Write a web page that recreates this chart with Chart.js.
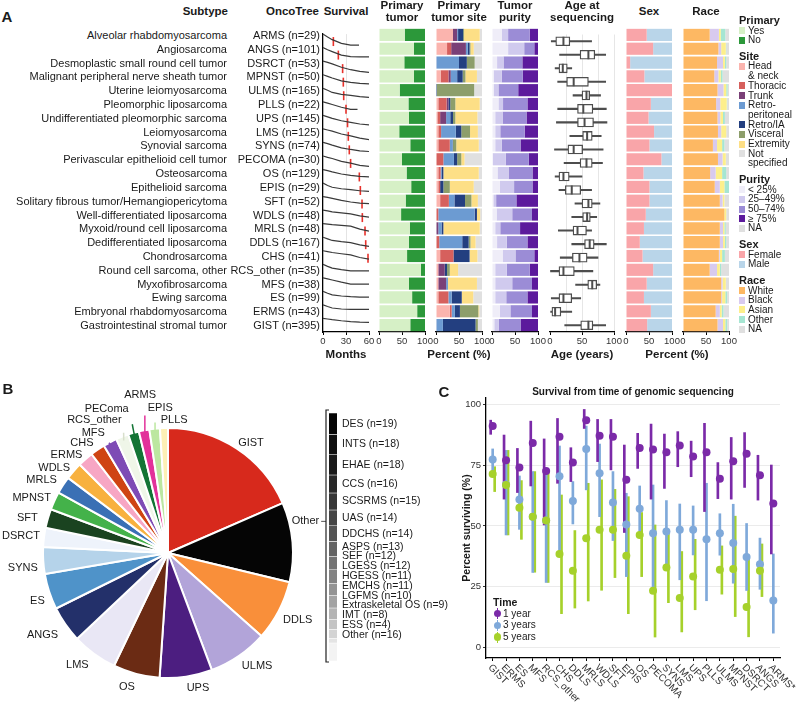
<!DOCTYPE html>
<html>
<head>
<meta charset="utf-8">
<script src="https://cdn.jsdelivr.net/npm/chart.js@4.4.1/dist/chart.umd.min.js"></script>
<style>
  body { margin: 0; background: #fff; }
  #fig { position: relative; width: 798px; height: 710px; overflow: hidden; font-family: 'Liberation Sans', Arial, Helvetica, sans-serif; color: #1a1a1a; }
  #fig canvas { position: absolute; }
  .t { position: absolute; white-space: nowrap; line-height: 1; }
</style>
</head>
<body>
<div id="fig"></div>
<script>
// ---------- Panel A data (rows top to bottom) ----------
const subtypes = ['Alveolar rhabdomyosarcoma', 'Angiosarcoma', 'Desmoplastic small round cell tumor',
  'Malignant peripheral nerve sheath tumor', 'Uterine leiomyosarcoma', 'Pleomorphic liposarcoma',
  'Undifferentiated pleomorphic sarcoma', 'Leiomyosarcoma', 'Synovial sarcoma',
  'Perivascular epithelioid cell tumor', 'Osteosarcoma', 'Epithelioid sarcoma',
  'Solitary fibrous tumor/Hemangiopericytoma', 'Well-differentiated liposarcoma',
  'Myxoid/round cell liposarcoma', 'Dedifferentiated liposarcoma', 'Chondrosarcoma',
  'Round cell sarcoma, other', 'Myxofibrosarcoma', 'Ewing sarcoma', 'Embryonal rhabdomyosarcoma',
  'Gastrointestinal stromal tumor'];
const codes = ['ARMS', 'ANGS', 'DSRCT', 'MPNST', 'ULMS', 'PLLS', 'UPS', 'LMS', 'SYNS', 'PECOMA', 'OS',
  'EPIS', 'SFT', 'WDLS', 'MRLS', 'DDLS', 'CHS', 'RCS_other', 'MFS', 'ES', 'ERMS', 'GIST'];
const counts = [29, 101, 53, 50, 165, 22, 145, 125, 74, 30, 129, 29, 52, 48, 48, 167, 41, 35, 38, 99, 43, 395];

// survival (%) at these months
const survMonths = [0, 6, 12, 24, 36, 48, 60];
const survCurves = [
  [100, 78, 59, 32, 19, 19, null],
  [100, 84, 71, 45, 34, 32, 31.6],
  [100, 91, 80, 55, 37, 25, 17],
  [100, 88, 76, 55, 43, 36, 32],
  [100, 85, 69, 55, 47, 38, 32],
  [100, 90, 80, 60, 44.5, null, null],
  [100, 89, 78, 60, 48, 36, 29],
  [100, 92, 83, 62, 48, 32, 20],
  [100, 91, 80, 60, 48, 38, 33],
  [100, 90, 81, 60, 47, 30, 23],
  [100, 92, 82, 67, 57, 50, 46],
  [100, 82, 69, 58, 51, 43, 38],
  [100, 94, 87, 72, 60, 52, 48],
  [100, 94, 87, 80, 72, 58, 48],
  [100, 97, 93, 88, 82, 60, 45],
  [100, 88, 76, 67, 60, 44, 32],
  [100, 94, 87, 78, 70, 50, 38.5],
  [100, 85, 72, 60, 52, 52, 52],
  [100, 92, 84, 68, 54, 54, 54],
  [100, 86, 74, 66, 61, 58, 57.5],
  [100, 88, 77, 70, 67, 67, 67],
  [100, 96, 91, 83, 77, 73, 71]
];
const survEnd = [47, 60, 60, 60, 60, 45, 60, 60, 60, 60, 60, 60, 60, 60, 60, 60, 60, 60, 60, 60, 60, 60];
const survMedian = [13.5, 20, 25.6, 26.5, 27, 30, 32, 33, 34.3, 36, 47.4, 48.7, 50.9, 51.3, 54.8, 55.7, 58.7,
  null, null, null, null, null];

const primaryYes = [56, 76, 55, 76, 45, 64, 65, 44, 68, 50, 60, 70, 58, 48, 67, 65, 61, 91, 65, 72, 83, 68];
const primaryNo = [44, 24, 45, 24, 55, 36, 35, 56, 32, 50, 40, 30, 42, 52, 33, 35, 39, 9, 35, 28, 17, 32];

const siteHeadNeck = [37, 24, 1, 10, 0, 5, 3, 5, 5, 0, 5, 5, 9, 0, 0, 0, 9, 5, 5, 5, 30, 1];
const siteThoracic = [0, 9, 0, 17, 0, 18, 6, 6, 25, 16, 5, 4, 19, 5, 0, 7, 29, 0, 0, 22, 4, 0];
const siteTrunk = [9, 32, 0, 5, 0, 4, 13, 0, 0, 0, 0, 0, 0, 0, 5, 0, 0, 14, 17, 0, 0, 0];
const siteRetroperitoneal = [2, 4, 49, 14, 1, 0, 9, 32, 6, 23, 2, 0, 12, 79, 7, 50, 0, 0, 4, 7, 7, 14];
const siteRetroIA = [11, 4, 17, 12, 1, 4, 6, 12, 1, 7, 4, 7, 23, 5, 4, 14, 35, 5, 0, 22, 11, 71];
const siteVisceral = [2, 2, 17, 6, 81, 11, 5, 19, 7, 9, 0, 14, 14, 0, 0, 4, 0, 6, 0, 0, 40, 5];
const siteExtremity = [34, 7, 0, 25, 0, 53, 48, 17, 49, 7, 77, 52, 14, 7, 79, 11, 17, 18, 63, 25, 2, 0];
const siteNotSpecified = [5, 18, 16, 11, 17, 5, 10, 9, 7, 38, 7, 18, 9, 4, 5, 14, 10, 52, 11, 19, 6, 9];

const purityLt25 = [21, 35, 11, 4, 4, 14, 7, 7, 7, 2, 12, 17, 3, 10, 7, 11, 23, 7, 7, 7, 17, 5];
const purity25 = [14, 35, 14, 17, 10, 10, 16, 11, 14, 28, 24, 31, 6, 34, 11, 21, 28, 25, 37, 24, 23, 10];
const purity50 = [47, 22, 41, 46, 43, 53, 52, 53, 41, 50, 52, 40, 44, 43, 43, 45, 41, 50, 43, 46, 47, 47];
const purity75 = [18, 8, 34, 33, 43, 23, 25, 29, 38, 20, 12, 12, 47, 13, 39, 23, 8, 18, 13, 23, 13, 38];

const ageLow = [2, 15, 8, 12, 36, 12, 10, 31, 7, 22, 8, 14, 39, 34, 13, 34, 16, 0, 40, 2, 1, 23];
const ageQ1 = [9, 47, 14, 26, 50, 43, 43, 51, 28, 47, 14, 24, 50, 51, 36, 54, 35, 14, 59, 14, 3, 48];
const ageMedian = [21, 60, 20, 37, 57, 52, 54, 58, 37, 57, 21, 34, 60, 58, 43, 62, 46, 21, 66, 21, 8, 60];
const ageQ3 = [31, 70, 27, 60, 62, 67, 68, 66, 51, 66, 30, 48, 66, 63, 57, 69, 58, 38, 73, 34, 17, 67];
const ageHigh = [65, 87, 34, 87, 79, 88, 89, 80, 83, 82, 50, 65, 78, 73, 65, 88, 75, 67, 78, 48, 34, 87];

const sexFemale = [45, 59, 9, 40, 100, 54, 49, 61, 51, 77, 38, 51, 51, 43, 39, 30, 36, 59, 45, 39, 54, 46];
const sexMale = [55, 41, 91, 60, 0, 46, 51, 39, 49, 23, 62, 49, 49, 57, 61, 70, 64, 41, 55, 61, 46, 54];

const raceWhite = [58, 77, 74, 68, 75, 72, 75, 76, 65, 76, 59, 69, 80, 90, 80, 80, 78, 58, 83, 83, 71, 75];
const raceBlack = [20, 6, 13, 9, 13, 9, 6, 7, 9, 10, 12, 11, 6, 0, 7, 7, 2, 16, 3, 2, 9, 12];
const raceAsian = [4, 10, 4, 5, 6, 14, 6, 11, 11, 7, 14, 10, 4, 4, 3, 4, 5, 6, 7, 7, 4, 5];
const raceOther = [10, 1, 3, 4, 3, 1, 4, 0, 5, 0, 9, 10, 0, 0, 3, 3, 6, 3, 0, 4, 4, 4];
const raceNA = [8, 6, 6, 14, 3, 4, 9, 6, 10, 7, 6, 0, 10, 6, 7, 6, 9, 17, 7, 4, 12, 4];

// ---------- Panel B data ----------
const pieLabels = ['GIST', 'Other', 'DDLS', 'ULMS', 'UPS', 'OS', 'LMS', 'ANGS', 'ES', 'SYNS', 'DSRCT', 'SFT',
  'MPNST', 'MRLS', 'WDLS', 'ERMS', 'CHS', 'MFS', 'RCS_other', 'PEComa', 'ARMS', 'EPIS', 'PLLS'];
const pieCounts = [395, 220, 167, 165, 145, 129, 125, 101, 99, 74, 53, 52, 50, 48, 48, 43, 41, 38, 35, 30, 29, 29, 22];
const otherCodes = ['DES', 'INTS', 'EHAE', 'CCS', 'SCSRMS', 'UAS', 'DDCHS', 'ASPS', 'SEF', 'LGESS', 'HGESS',
  'EMCHS', 'LGFMS', 'Extraskeletal OS', 'IMT', 'ESS', 'Other'];
const otherCounts = [19, 18, 18, 16, 15, 14, 14, 13, 12, 12, 11, 11, 10, 9, 8, 4, 16];

// ---------- Panel C data ----------
const survCodes = ['GIST', 'ERMS', 'ES', 'MFS', 'RCS_other', 'CHS', 'DDLS', 'MRLS', 'WDLS', 'SFT', 'EPIS', 'OS',
  'PECOMA', 'SYNS', 'LMS', 'UPS', 'PLLS', 'ULMS', 'MPNST', 'DSRCT', 'ANGS', 'ARMS*'];
const year1 = [91, 77, 74, 84, 72.5, 86.6, 76, 93.4, 87, 86.6, 69, 82, 81.4, 80.2, 83, 78.5, 80.2, 69.4, 76.5, 79.6, 70.8, 59.2];
const year1Lo = [87.6, 61, 63.7, 66.4, 50.4, 67.5, 68.2, 90, 76.4, 73, 47.3, 73.6, 61, 65.4, 74.3, 70.2, 55.9, 61.2, 61, 65.8, 60.6, 38.5];
const year1Hi = [93.4, 87.3, 81.8, 93, 85.7, 94.1, 82.1, 97.8, 93.7, 93.7, 83.2, 88, 91.8, 87.7, 88.7, 84.8, 92.1, 76, 86.3, 88.3, 79, 75];
const year3 = [77.3, 67, 60.8, 53.8, 52.2, 70.4, 60.2, 81.6, 71.6, 59.6, 50.6, 57, 47, 47.7, 48.4, 48.4, 44.5, 47, 43, 37.2, 34.3, 19.4];
const year3Lo = [72.3, 46.3, 48.6, 30.9, 26.8, 38.5, 50.8, 64.8, 53.8, 44, 29.2, 47.7, 24.5, 33, 27.9, 38.1, 19.3, 38, 26.5, 23.5, 24, 6];
const year3Hi = [81.6, 81, 70.5, 72.3, 72.3, 82.8, 68.2, 91, 83.6, 72.3, 63.4, 66.4, 66.8, 60.4, 59, 58.2, 67.5, 55, 58.9, 51, 45, 38.5];
const year5 = [71.3, 66.8, 57.5, 53.8, 52.2, 38.5, 31.6, 44.9, 48.4, 48.4, 37.8, 46.3, 23.4, 32.9, 20.4, 29.2, null, 32, 32.3, 16.7, 31.6, null];
const year5Lo = [64.1, 46.3, 44.5, 31, 26.8, 14, 16.3, 19.2, 23.6, 28.8, 14, 29.2, 4.4, 18.5, 6.5, 15.6, null, 22, 12.8, 4.5, 21, null];
const year5Hi = [74.3, 81, 68.6, 72.3, 72.3, 62.7, 48.1, 67.5, 68.9, 65, 62, 55.5, 50.4, 47, 39.5, 44.5, null, 41.8, 54, 38, 42.6, null];

// ---------- styles ----------
const FONT = "'Liberation Sans', Arial, Helvetica, sans-serif";
Chart.defaults.font.family = FONT;
Chart.defaults.color = '#333';

const primaryColors = ['#d6f0c6', '#2c983a'];
const siteColors = ['#fbb4ae', '#d6605d', '#7a4077', '#6c9bd2', '#233f80', '#8d9e6b', '#fddf86', '#e0e0e0'];
const purityColors = ['#efedf8', '#d0caee', '#9b8cd6', '#5c1a9c', '#e0e0e0'];
const sexColors = ['#f9a5a9', '#b9d5e9'];
const raceColors = ['#fdb863', '#d8caef', '#fdef8c', '#a6e6d2', '#dfdfdf'];
const pieColors = ['#d7291c', '#050505', '#f98f3a', '#b2a4d9', '#4c1e80', '#6b2b14', '#e9e7f5', '#23306a',
  '#4f93c9', '#b5d3ea', '#eef3fb', '#1a4320', '#44b24a', '#3a70b5', '#f8b13f', '#f7a6c4', '#cf4413',
  '#7e4bb5', '#eff6e8', '#137435', '#e2319a', '#bce7a0', '#fdf0b5'];
const otherGrays = ['#050505', '#0f0f0f', '#1a1a1a', '#282828', '#363636', '#454545', '#545454', '#636363',
  '#737373', '#838383', '#939393', '#a3a3a3', '#b4b4b4', '#c4c4c4', '#d4d4d4', '#e4e4e4', '#f3f3f3'];
const timeColors = ['#7b2aa8', '#7fa9da', '#a6d12b'];

// pie label placement (degrees nudge from slice middle, distance from centre)
const pieLabelNudge = [3.7, -8, -0.3, -3.8, -4.2, 2.3, 2.9, 1.6, -2, -2.5, -0.6, -2.1, -2.7, -2.9, -4.3, -4.7,
  -3.7, -4.4, -7.5, -7, 1, 3.1, 4.5];
const pieLabelDist = [138, 141, 146, 144, 138, 140, 144, 150, 139, 146, 148, 145, 147, 146, 142, 141, 140, 141,
  152, 157, 160, 145, 133];
const pieLeader = ['MFS', 'RCS_other', 'PEComa', 'ARMS', 'EPIS'];

const fig = document.getElementById('fig');

function txt(s, x, y, o = {}) {
  const d = document.createElement('div');
  d.className = 't';
  d.textContent = s;
  const tx = o.align === 'right' ? '-100%' : o.align === 'center' ? '-50%' : '0';
  Object.assign(d.style, {
    left: x + 'px', top: y + 'px', fontSize: (o.size || 11) + 'px',
    fontWeight: o.bold ? 'bold' : 'normal', color: o.color || '#1a1a1a',
    transform: `translate(${tx},-50%)` + (o.rot ? ` rotate(${o.rot}deg)` : '')
  });
  fig.appendChild(d);
}

function box(x, y, w, h, bg, extra) {
  const d = document.createElement('div');
  Object.assign(d.style, { position: 'absolute', left: x + 'px', top: y + 'px', width: w + 'px', height: h + 'px', background: bg }, extra || {});
  fig.appendChild(d);
}

function canvasAt(left, top, w, h) {
  const c = document.createElement('canvas');
  c.width = w; c.height = h;
  Object.assign(c.style, { left: left + 'px', top: top + 'px', width: w + 'px', height: h + 'px' });
  fig.appendChild(c);
  return c;
}

function baseOpts(padding) {
  return {
    responsive: false, animation: false, events: [],
    layout: { padding },
    plugins: { legend: { display: false }, tooltip: { enabled: false } }
  };
}

// ---------- Panel A layout ----------
const rowTop = 28, rowBottom = 332, axisH = 22;
const rowH = (rowBottom - rowTop) / codes.length;

function colCanvas(x0, x1) {
  return canvasAt(x0 - 12, rowTop, x1 - x0 + 24, rowBottom - rowTop + axisH);
}

function bottomAxis(extra) {
  return Object.assign({
    type: 'linear', min: 0, max: 100,
    border: { color: '#000', width: 1.3 },
    grid: { drawOnChartArea: false, tickLength: 3, tickColor: '#000' },
    ticks: { stepSize: 50, font: { size: 9.5 }, color: '#333', padding: 1, maxRotation: 0 },
    afterFit: s => { s.height = axisH; }
  }, extra || {});
}

function stackColumn(x0, x1, series, colors) {
  new Chart(colCanvas(x0, x1), {
    type: 'bar',
    data: {
      labels: codes,
      datasets: series.map((d, k) => ({ data: d, backgroundColor: colors[k], barPercentage: 0.88, categoryPercentage: 1, borderWidth: 0 }))
    },
    options: Object.assign(baseOpts({ left: 12, right: 12 }), {
      indexAxis: 'y',
      scales: { x: bottomAxis({ stacked: true }), y: { stacked: true, display: false } }
    })
  });
}

// survival curves
const survSets = codes.map((c, i) => {
  const pts = [];
  survMonths.forEach((m, k) => {
    const s = survCurves[i][k];
    if (s != null && m <= survEnd[i]) pts.push({ x: m, y: i + 1 - s / 100 });
  });
  const last = pts[pts.length - 1];
  if (last.x < survEnd[i]) pts.push({ x: survEnd[i], y: last.y });
  return { data: pts, borderColor: '#3a3a3a', borderWidth: 1.2, pointRadius: 0, tension: 0, fill: false };
});
const medianSet = {
  data: survMedian.map((m, i) => m == null ? null : { x: m, y: i + 0.55 }).filter(Boolean),
  showLine: false, pointStyle: 'line', pointRotation: 90, pointRadius: 4.5,
  pointBorderColor: '#e8312b', pointBackgroundColor: '#e8312b', pointBorderWidth: 1.6
};
new Chart(colCanvas(323, 369), {
  type: 'line',
  data: { datasets: survSets.concat([medianSet]) },
  options: Object.assign(baseOpts({ left: 12, right: 12 }), {
    scales: {
      x: bottomAxis({
        max: 60,
        grid: { color: c => (c.tick && c.tick.value === 30) ? '#e4e4e4' : 'rgba(0,0,0,0)', tickLength: 3, tickColor: '#000' },
        ticks: { stepSize: 30, font: { size: 9.5 }, color: '#333', padding: 1, maxRotation: 0 }
      }),
      y: {
        type: 'linear', min: 0, max: codes.length, reverse: true,
        ticks: { display: false }, grid: { display: false },
        border: { color: '#000', width: 1.3 },
        afterFit: s => { s.width = 0; }
      }
    }
  })
});

stackColumn(379, 425, [primaryYes, primaryNo], primaryColors);
stackColumn(436, 482, [siteHeadNeck, siteThoracic, siteTrunk, siteRetroperitoneal, siteRetroIA, siteVisceral,
  siteExtremity, siteNotSpecified], siteColors);
stackColumn(492, 538, [purityLt25, purity25, purity50, purity75], purityColors);
stackColumn(626, 672, [sexFemale, sexMale], sexColors);
stackColumn(683, 729, [raceWhite, raceBlack, raceAsian, raceOther, raceNA], raceColors);

// age box plots
new Chart(colCanvas(550, 614), {
  type: 'bar',
  data: {
    labels: codes,
    datasets: [
      { type: 'line', indexAxis: 'y', data: ageMedian.map((m, i) => ({ x: m, y: codes[i] })), showLine: false,
        pointStyle: 'line', pointRotation: 90, pointRadius: 4.5, pointBorderColor: '#4d4d4d', pointBorderWidth: 2, order: 0 },
      { data: ageQ1.map((q, i) => [q, ageQ3[i]]), backgroundColor: '#fff', borderColor: '#4d4d4d', borderWidth: 1.3,
        borderSkipped: false, barThickness: 9, grouped: false, order: 1 },
      { data: ageLow.map((l, i) => [l, ageHigh[i]]), backgroundColor: '#4d4d4d', barThickness: 1.4, grouped: false, order: 2 }
    ]
  },
  options: Object.assign(baseOpts({ left: 12, right: 12 }), {
    indexAxis: 'y',
    scales: {
      x: bottomAxis({
        grid: {
          color: c => (c.tick && c.tick.value > 0) ? '#e6e6e6' : 'rgba(0,0,0,0)',
          tickLength: 3, tickColor: c => (c.tick && c.tick.value % 50 === 0) ? '#000' : 'rgba(0,0,0,0)'
        },
        ticks: { stepSize: 25, autoSkip: false, callback: v => v % 50 === 0 ? v : '', font: { size: 9.5 }, color: '#333', padding: 1, maxRotation: 0 }
      }),
      y: { display: false }
    }
  })
});

// Panel A text
txt('A', 7, 16, { align: 'center', size: 15, bold: true });
txt('Subtype', 228, 12, { align: 'right', size: 11.5, bold: true });
txt('OncoTree', 319, 12, { align: 'right', size: 11.5, bold: true });
txt('Survival', 346, 12, { align: 'center', size: 11.5, bold: true });
[['Primary', 'tumor', 402], ['Primary', 'tumor site', 459], ['Tumor', 'purity', 515], ['Age at', 'sequencing', 582]]
  .forEach(([a, b, x]) => { txt(a, x, 6, { align: 'center', size: 11.5, bold: true }); txt(b, x, 18, { align: 'center', size: 11.5, bold: true }); });
txt('Sex', 649, 12, { align: 'center', size: 11.5, bold: true });
txt('Race', 706, 12, { align: 'center', size: 11.5, bold: true });
codes.forEach((c, i) => {
  const y = rowTop + (i + 0.5) * rowH;
  txt(subtypes[i], 227, y, { align: 'right', size: 11 });
  txt(`${c} (n=${counts[i]})`, 320, y, { align: 'right', size: 11 });
});
txt('Months', 346, 355, { align: 'center', size: 11.5, bold: true });
txt('Percent (%)', 459, 355, { align: 'center', size: 11.5, bold: true });
txt('Age (years)', 582, 355, { align: 'center', size: 11.5, bold: true });
txt('Percent (%)', 677, 355, { align: 'center', size: 11.5, bold: true });

// Panel A legend
const legendGroups = [
  ['Primary', ['Yes', 'No'], primaryColors],
  ['Site', ['Head\n& neck', 'Thoracic', 'Trunk', 'Retro-\nperitoneal', 'Retro/IA', 'Visceral', 'Extremity', 'Not\nspecified'], siteColors],
  ['Purity', ['< 25%', '25–49%', '50–74%', '≥ 75%', 'NA'], purityColors],
  ['Sex', ['Female', 'Male'], sexColors],
  ['Race', ['White', 'Black', 'Asian', 'Other', 'NA'], raceColors]
];
let ly = 20;
legendGroups.forEach(([title, names, cols]) => {
  txt(title, 739, ly, { size: 11, bold: true });
  ly += 10.5;
  names.forEach((n, k) => {
    const lines = n.split('\n');
    box(739, ly - 3.5, 5.5, 7, cols[k]);
    lines.forEach((l, j) => txt(l, 748, ly + j * 9.4, { size: 10 }));
    ly += 9.7 * lines.length;
  });
  ly += 6;
});

// ---------- Panel B ----------
const pieLabelPlugin = {
  id: 'pieLabels',
  afterDatasetsDraw(chart) {
    const ctx = chart.ctx, arcs = chart.getDatasetMeta(0).data;
    const cx = arcs[0].x, cy = arcs[0].y, R = arcs[0].outerRadius;
    ctx.save();
    ctx.font = `11px ${FONT}`;
    ctx.textAlign = 'center';
    ctx.textBaseline = 'middle';
    arcs.forEach((arc, i) => {
      const mid = (arc.startAngle + arc.endAngle) / 2;
      const a = mid + pieLabelNudge[i] * Math.PI / 180;
      const lx = cx + pieLabelDist[i] * Math.cos(a), ly2 = cy + pieLabelDist[i] * Math.sin(a);
      const w = ctx.measureText(pieLabels[i]).width;
      if (pieLeader.includes(pieLabels[i])) {
        const sx = cx + (R - 4) * Math.cos(mid), sy = cy + (R - 4) * Math.sin(mid);
        const tx = Math.min(Math.max(sx, lx - w / 2 - 2), lx + w / 2 + 2);
        const ty = Math.min(Math.max(sy, ly2 - 7.5), ly2 + 7.5);
        ctx.strokeStyle = pieLabels[i] === 'RCS_other' ? '#d8dfcc' : pieColors[i];
        ctx.lineWidth = 1.5;
        ctx.beginPath();
        ctx.moveTo(sx, sy);
        ctx.lineTo(sx + (tx - sx) * 0.6, sy + (ty - sy) * 0.6);
        ctx.stroke();
      }
      ctx.fillStyle = '#1a1a1a';
      ctx.fillText(pieLabels[i], lx, ly2);
      if (pieLabels[i] === 'Other') {
        ctx.strokeStyle = '#555';
        ctx.lineWidth = 1;
        ctx.beginPath();
        ctx.moveTo(lx + w / 2 + 2, ly2);
        ctx.lineTo(chart.width - 4, ly2);
        ctx.stroke();
      }
    });
    ctx.restore();
  }
};
new Chart(canvasAt(0, 390, 330, 320), {
  type: 'pie',
  data: { labels: pieLabels, datasets: [{ data: pieCounts, backgroundColor: pieColors, borderColor: '#fff', borderWidth: 2, hoverOffset: 0 }] },
  options: baseOpts({ left: 42, right: 36, top: 37, bottom: 31 }),
  plugins: [pieLabelPlugin]
});

const bracketPlugin = {
  id: 'bracket',
  afterDatasetsDraw(chart) {
    const ctx = chart.ctx, a = chart.chartArea;
    const centers = chart.data.datasets.map((d, i) => {
      const el = chart.getDatasetMeta(i).data[0];
      return (el.y + el.base) / 2;
    });
    const pos = centers.slice();
    const n = pos.length;
    pos[n - 1] = Math.min(centers[n - 1], a.bottom - 26);
    for (let i = n - 2; i >= 0; i--) pos[i] = Math.min(centers[i], pos[i + 1] - 9.8);
    ctx.save();
    ctx.font = `10.5px ${FONT}`;
    ctx.fillStyle = '#1a1a1a';
    ctx.textBaseline = 'middle';
    chart.data.datasets.forEach((d, i) => ctx.fillText(d.label, a.right + 5, pos[i]));
    const bx = a.left - 3;
    ctx.strokeStyle = '#222';
    ctx.lineWidth = 1.2;
    ctx.beginPath();
    ctx.moveTo(bx + 3, a.top - 3); ctx.lineTo(bx, a.top - 3); ctx.lineTo(bx, a.bottom + 1); ctx.lineTo(bx + 3, a.bottom + 1);
    ctx.stroke();
    ctx.restore();
  }
};
new Chart(canvasAt(322, 400, 150, 270), {
  type: 'bar',
  data: {
    labels: ['Other'],
    datasets: otherCodes.map((c, i) => ({
      label: `${c} (n=${otherCounts[i]})`, data: [otherCounts[i]], backgroundColor: otherGrays[i],
      borderColor: '#fff', borderWidth: { top: 0.6, bottom: 0.6, left: 0, right: 0 }, borderSkipped: false,
      barPercentage: 1, categoryPercentage: 1
    }))
  },
  options: Object.assign(baseOpts({ left: 7, right: 135, top: 13, bottom: 9 }), {
    scales: {
      x: { display: false, stacked: true },
      y: { display: false, stacked: true, reverse: true, min: 0, max: otherCounts.reduce((s, v) => s + v, 0) }
    }
  }),
  plugins: [bracketPlugin]
});
txt('B', 8, 388, { align: 'center', size: 15, bold: true });

// ---------- Panel C ----------
const rotLabels = {
  id: 'rotLabels',
  afterDraw(chart) {
    const sx = chart.scales.x, ctx = chart.ctx;
    ctx.save();
    ctx.font = `10px ${FONT}`;
    ctx.fillStyle = '#333';
    ctx.textAlign = 'left';
    ctx.textBaseline = 'middle';
    survCodes.forEach((lab, i) => {
      const x = sx.getPixelForValue(i);
      ctx.save();
      ctx.translate(x - 3, sx.top + 8);
      ctx.rotate(Math.PI / 4);
      ctx.fillText(lab, 0, 0);
      ctx.restore();
    });
    ctx.restore();
  }
};
const tVals = [year1, year3, year5], tLo = [year1Lo, year3Lo, year5Lo], tHi = [year1Hi, year3Hi, year5Hi];
const cBars = tVals.map((v, t) => ({
  type: 'bar', data: tLo[t].map((lo, i) => lo == null ? null : [lo, tHi[t][i]]),
  backgroundColor: timeColors[t], barThickness: 2, order: 3 + t
}));
const cPoints = tVals.map((v, t) => ({
  type: 'line', showLine: false, data: v,
  pointRadius: 4, pointBackgroundColor: timeColors[t], pointBorderColor: timeColors[t], pointBorderWidth: 0, order: 2 - t
}));
new Chart(canvasAt(455, 380, 343, 330), {
  type: 'bar',
  data: { labels: survCodes, datasets: cBars.concat(cPoints) },
  options: Object.assign(baseOpts({ left: 0, right: 18, top: 18, bottom: 0 }), {
    scales: {
      x: {
        type: 'category', offset: true,
        border: { color: '#000', width: 1.3 },
        grid: { drawOnChartArea: false, offset: false, tickLength: 3, tickColor: '#000' },
        ticks: { display: false },
        afterFit: s => { s.height = 52; }
      },
      y: {
        type: 'linear', min: -4.2, max: 102.5,
        border: { color: '#000', width: 1.3 },
        grid: { color: '#ebebeb', tickLength: 3, tickColor: '#333' },
        ticks: { font: { size: 9.5 }, color: '#333', padding: 2 },
        afterBuildTicks: s => { s.ticks = [0, 25, 50, 75, 100].map(v => ({ value: v })); },
        afterFit: s => { s.width = 31; }
      }
    }
  }),
  plugins: [rotLabels]
});
txt('C', 444, 391, { align: 'center', size: 15, bold: true });
txt('Survival from time of genomic sequencing', 633, 392, { align: 'center', size: 10, bold: true });
txt('Percent surviving (%)', 466, 528, { align: 'center', size: 10.5, bold: true, rot: -90 });

// Panel C legend
txt('Time', 493, 602, { size: 10.5, bold: true });
['1 year', '3 years', '5 years'].forEach((n, t) => {
  const y = 613.5 + t * 11.8;
  box(496.5, y - 5.5, 1.6, 11, timeColors[t]);
  box(493.6, y - 3.7, 7.4, 7.4, timeColors[t], { borderRadius: '50%' });
  txt(n, 503, y, { size: 10 });
});
</script>
</body>
</html>
